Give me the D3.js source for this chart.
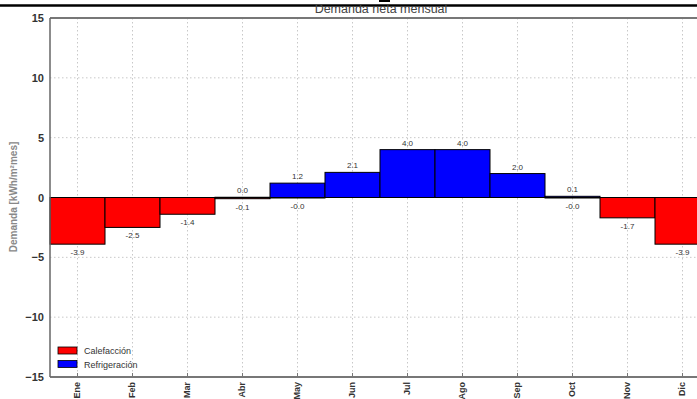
<!DOCTYPE html>
<html><head><meta charset="utf-8">
<script src="https://cdn.jsdelivr.net/npm/d3@7"></script>
<style>body{margin:0;background:#fff;overflow:hidden}svg{display:block}</style>
</head><body>
<script>
const months = ["Ene","Feb","Mar","Abr","May","Jun","Jul","Ago","Sep","Oct","Nov","Dic"];
const heating = [-3.9,-2.5,-1.4,-0.1,-0.02,0,0,0,0,-0.02,-1.7,-3.9];
const cooling = [0,0,0,0.02,1.2,2.1,4.0,4.0,2.0,0.1,0,0];
const yTicks = [-15,-10,-5,0,5,10,15];
const gridY = [-10,-5,5,10];

const W=697,H=399;
const svg=d3.select("body").append("svg").attr("width",W).attr("height",H);
const m={l:50,t:18,r:710,b:377};
const x=d3.scaleBand().domain(months).range([m.l,m.r]).padding(0);
const y=d3.scaleLinear().domain([-15,15]).range([m.b,m.t]);

// top black bar
svg.append("line").attr("x1",0).attr("x2",W).attr("y1",5.5).attr("y2",5.5).attr("stroke","#000").attr("stroke-width",2.5);
svg.append("rect").attr("x",379).attr("y",0).attr("width",11).attr("height",2).attr("fill","#000");

// title
svg.append("text").attr("x",381).attr("y",13).attr("text-anchor","middle")
  .attr("font-family","Liberation Sans, Arial, sans-serif").attr("font-size",12.5)
  .attr("fill","#444").text("Demanda neta mensual");

// grid
const g=svg.append("g");
g.selectAll(".vg").data(months).join("line")
  .attr("x1",d=>x(d)+x.bandwidth()/2).attr("x2",d=>x(d)+x.bandwidth()/2)
  .attr("y1",m.t).attr("y2",m.b).attr("stroke","#c8c8c8").attr("stroke-dasharray","1.5,2.5");
g.selectAll(".hg").data(gridY).join("line")
  .attr("x1",m.l).attr("x2",m.r).attr("y1",d=>y(d)).attr("y2",d=>y(d))
  .attr("stroke","#c8c8c8").attr("stroke-dasharray","1.5,2.5");
// zero line
svg.append("line").attr("x1",m.l).attr("x2",m.r).attr("y1",y(0)).attr("y2",y(0)).attr("stroke","#666").attr("stroke-width",1);

// bars
const hv=months.map((mo,i)=>({mo,v:heating[i]}));
const cv=months.map((mo,i)=>({mo,v:cooling[i]}));
svg.selectAll(".hb").data(hv.filter(d=>d.v!==0)).join("rect")
  .attr("x",d=>x(d.mo)).attr("width",x.bandwidth())
  .attr("y",y(0)).attr("height",d=>Math.max(y(d.v)-y(0),0.5))
  .attr("fill","#ff0000").attr("stroke","#000").attr("stroke-width",1);
svg.selectAll(".cb").data(cv.filter(d=>d.v!==0)).join("rect")
  .attr("x",d=>x(d.mo)).attr("width",x.bandwidth())
  .attr("y",d=>y(d.v)).attr("height",d=>Math.max(y(0)-y(d.v),0.5))
  .attr("fill","#0000ff").attr("stroke","#000").attr("stroke-width",1);

// value labels
const lf="Liberation Sans, Arial, sans-serif";
svg.selectAll(".hl").data(hv.filter(d=>d.v!==0)).join("text")
  .attr("x",d=>x(d.mo)+x.bandwidth()/2).attr("y",d=>y(d.v)+11)
  .attr("text-anchor","middle").attr("font-family",lf).attr("font-size",8).attr("fill","#333")
  .text(d=>d.v.toFixed(1));
svg.selectAll(".cl").data(cv.filter(d=>d.v!==0)).join("text")
  .attr("x",d=>x(d.mo)+x.bandwidth()/2).attr("y",d=>y(d.v)-4)
  .attr("text-anchor","middle").attr("font-family",lf).attr("font-size",8).attr("fill","#333")
  .text(d=>d.v.toFixed(1));

// frame
svg.append("line").attr("x1",m.l).attr("x2",W).attr("y1",m.t).attr("y2",m.t).attr("stroke","#777").attr("stroke-width",2);
svg.append("line").attr("x1",m.l).attr("x2",W).attr("y1",m.b).attr("y2",m.b).attr("stroke","#777").attr("stroke-width",2);
svg.append("line").attr("x1",m.l).attr("x2",m.l).attr("y1",m.t).attr("y2",m.b).attr("stroke","#666").attr("stroke-width",1.5);

// y axis
const ya=svg.append("g").attr("transform",`translate(${m.l},0)`)
  .call(d3.axisLeft(y).tickValues(yTicks).tickSize(0).tickPadding(6).tickFormat(d=>d<0?"\u2212"+Math.abs(d):d));
ya.select(".domain").remove();
ya.selectAll("text").attr("font-family",lf).attr("font-size",11).attr("font-weight","bold").attr("fill","#333");

// x axis
const xa=svg.append("g").attr("transform",`translate(0,${m.b})`)
  .call(d3.axisBottom(x).tickSize(-4).tickSizeOuter(0).tickPadding(5));
xa.select(".domain").remove();
xa.selectAll("line").attr("stroke","#777");
xa.selectAll("text").attr("font-family",lf).attr("font-size",9).attr("font-weight","bold").attr("fill","#333")
  .attr("transform","rotate(-90)").attr("text-anchor","end").attr("dy","0.32em").attr("x",-5).attr("y",0);

// y label
svg.append("text").attr("transform","translate(17,197) rotate(-90)").attr("text-anchor","middle")
  .attr("font-family",lf).attr("font-size",10).attr("font-weight","bold").attr("fill","#888")
  .text("Demanda [kWh/m²mes]");

// legend
const leg=[{n:"Calefacción",c:"#ff0000"},{n:"Refrigeración",c:"#0000ff"}];
const lg=svg.append("g");
lg.selectAll("rect").data(leg).join("rect").attr("x",58).attr("y",(d,i)=>347+i*13.5)
  .attr("width",19).attr("height",7).attr("fill",d=>d.c).attr("stroke","#000").attr("stroke-width",0.8);
lg.selectAll("text").data(leg).join("text").attr("x",84).attr("y",(d,i)=>354+i*13.5)
  .attr("font-family",lf).attr("font-size",9).attr("fill","#333").text(d=>d.n);
</script>
</body></html>
